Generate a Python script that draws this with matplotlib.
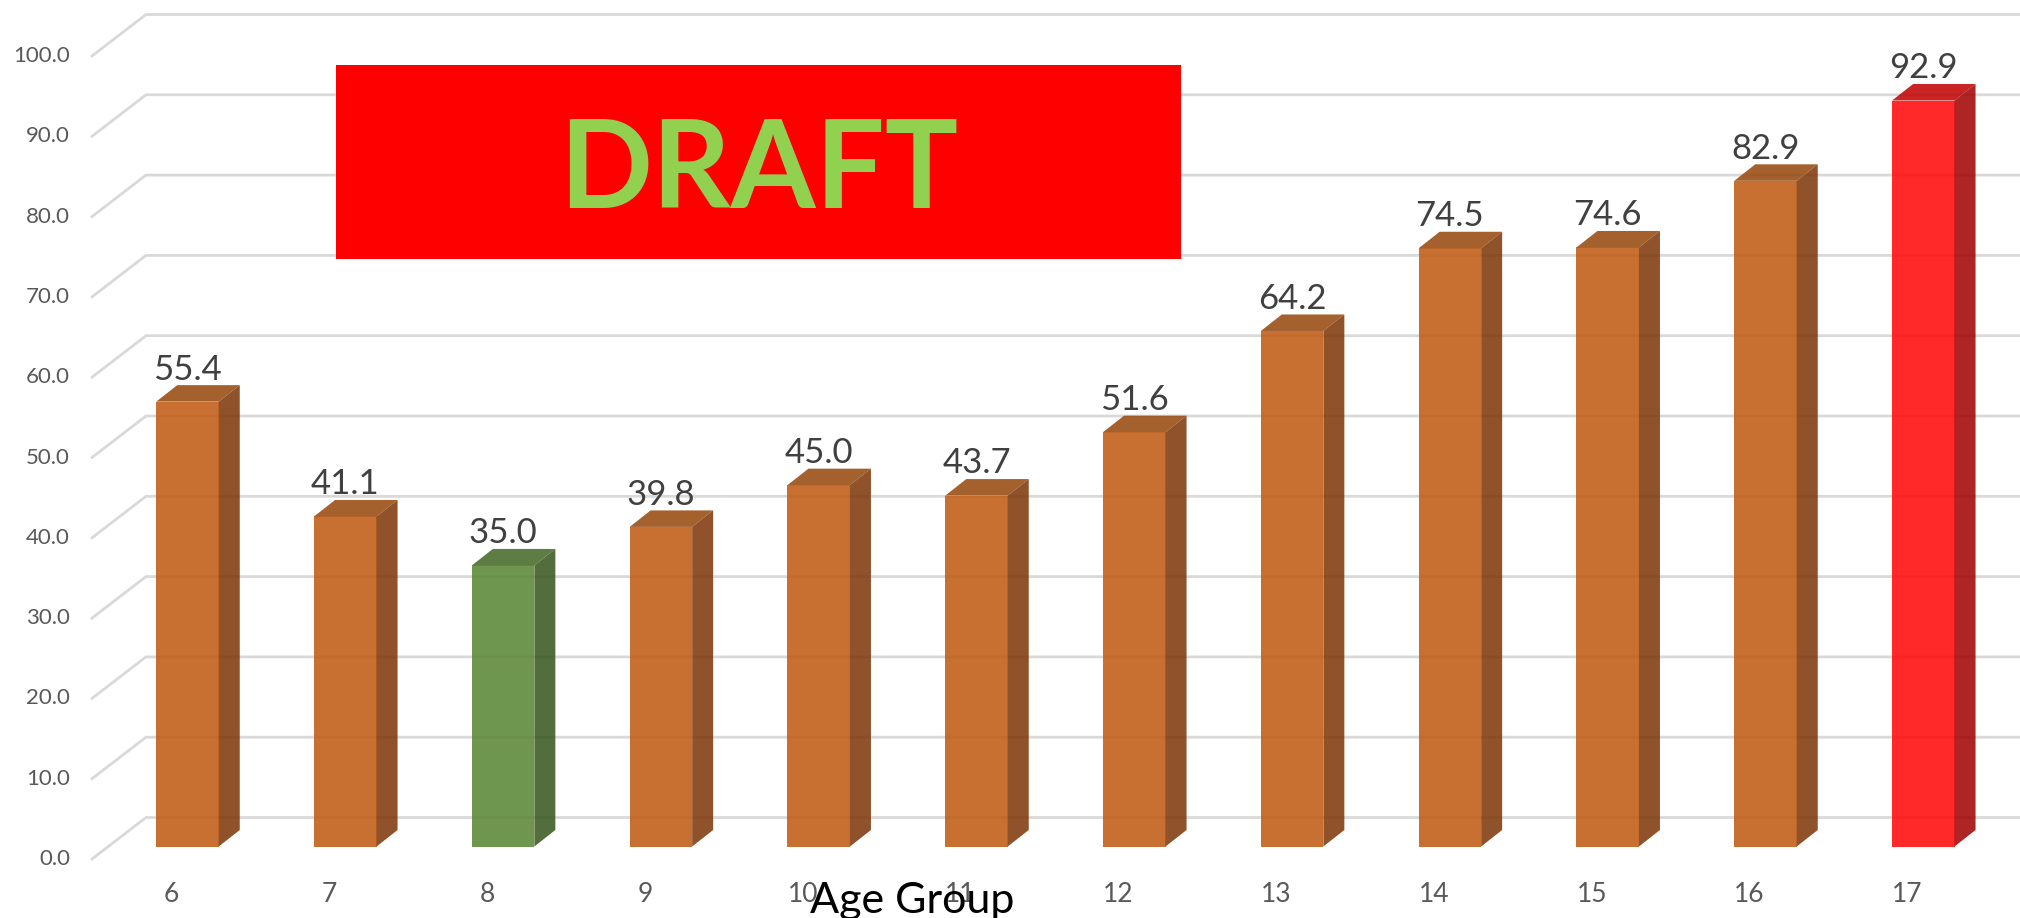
import matplotlib
matplotlib.use('Agg')
import matplotlib.pyplot as plt
from matplotlib.patches import Polygon, Rectangle

plt.rcParams['font.family'] = ['Lato', 'DejaVu Sans']

ages = ['6', '7', '8', '9', '10', '11', '12', '13', '14', '15', '16', '17']
values = [55.4, 41.1, 35.0, 39.8, 45.0, 43.7, 51.6, 64.2, 74.5, 74.6, 82.9, 92.9]
y_ticks = [0, 10, 20, 30, 40, 50, 60, 70, 80, 90, 100]

W, H = 2020, 918
px_cat = 157.8   # pixels per category
px_val = 8.03    # pixels per value unit
x0_px = 187.5
y0_px = 846.5

fig = plt.figure(figsize=(W / 100, H / 100), dpi=100)
ax = fig.add_axes([0, 0, 1, 1])
ax.set_xlim(-x0_px / px_cat, (W - x0_px) / px_cat)
ax.set_ylim(-(H - y0_px) / px_val, y0_px / px_val)
ax.axis('off')

# colours: front, side, top
orange = ('#C05A13', '#7E380A', '#97480E')
green = ('#5A8634', '#3A571F', '#466A28')
red = ('#FF0909', '#A20404', '#C10404')
colours = [orange, orange, green] + [orange] * 8 + [red]

bar_w = 62.5 / px_cat
dep_x = 21 / px_cat
dep_y = 16.5 / px_val

# walls: floor/back lines, offsets measured from the bar front plane
wall_front_x = (92 - x0_px) / px_cat
wall_back_x = (146 - x0_px) / px_cat
wall_front_dy = (y0_px - 859) / px_val
wall_back_dy = (y0_px - 817.5) / px_val
x_right = (W - x0_px) / px_cat
for t in y_ticks:
    ax.plot([wall_front_x, wall_back_x, x_right],
            [t + wall_front_dy, t + wall_back_dy, t + wall_back_dy],
            color='#D9D9D9', lw=2, zorder=1, solid_joinstyle='miter')
    ax.text((70 - x0_px) / px_cat, t + wall_front_dy, '%.1f' % t, ha='right', va='center',
            fontsize=16, color='#595959', zorder=5)

for i, v in enumerate(values):
    front, side, top = colours[i]
    a = 0.87
    left = i - bar_w / 2
    right = i + bar_w / 2
    ax.bar(i, v, width=bar_w, color=front, alpha=a, zorder=3, linewidth=0)
    ax.add_patch(Polygon([(right, 0), (right + dep_x, dep_y), (right + dep_x, v + dep_y), (right, v)],
                         closed=True, facecolor=side, alpha=a, linewidth=0, zorder=3))
    ax.add_patch(Polygon([(left, v), (left + dep_x, v + dep_y), (right + dep_x, v + dep_y), (right, v)],
                         closed=True, facecolor=top, alpha=a, linewidth=0, zorder=3))
    ax.text(i, v + dep_y + 0.7, '%.1f' % v, ha='center', va='baseline',
            fontsize=25, color='#404040', zorder=5)
    ax.text(i - 16 / px_cat, (y0_px - 895) / px_val, ages[i], ha='center', va='center',
            fontsize=19, color='#595959', zorder=5)

ax.text((912 - x0_px) / px_cat, (y0_px - 913) / px_val, 'Age Group', ha='center', va='baseline',
        fontsize=31, color='black', zorder=6)

# DRAFT box
bx0 = (336 - x0_px) / px_cat
bx1 = (1181 - x0_px) / px_cat
by0 = (y0_px - 259) / px_val
by1 = (y0_px - 65) / px_val
ax.add_patch(Rectangle((bx0, by0), bx1 - bx0, by1 - by0, facecolor='#FF0000', linewidth=0, zorder=7))
ax.text((bx0 + bx1) / 2, (by0 + by1) / 2 - 0.1, 'DRAFT', ha='center', va='center_baseline',
        fontsize=88, fontweight='bold', color='#92D050', zorder=8)

fig.savefig('out.png', dpi=100)
